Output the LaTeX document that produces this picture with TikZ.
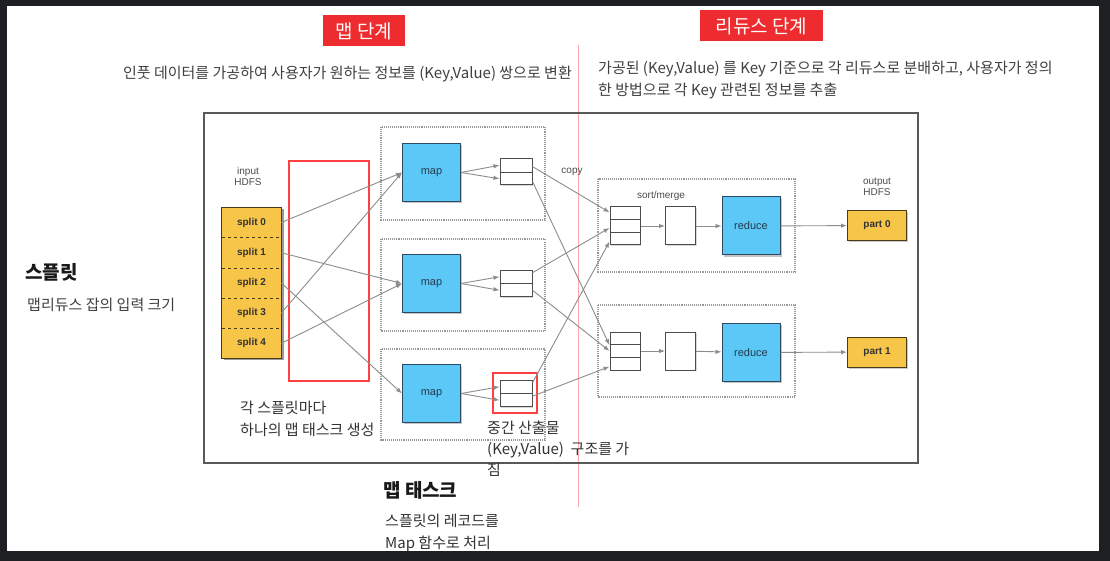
\documentclass[tikz,border=0pt]{standalone}
\usepackage{fontspec}
\setmainfont{Noto Sans CJK KR}
\newfontfamily\latinfont{Liberation Sans}
\usepackage{tikz}
\usetikzlibrary{calc,arrows.meta,shadows}
\definecolor{mapblue}{HTML}{5CC8F7}
\definecolor{mapedge}{HTML}{2C4A63}
\definecolor{hdfsorange}{HTML}{F7C548}
\definecolor{hdfsedge}{HTML}{4A3A1A}
\definecolor{stagered}{HTML}{EE2B2E}
\definecolor{framebg}{HTML}{1E1F22}

\begin{document}
\begin{tikzpicture}[x=1pt,y=-1pt,
    lbl/.style={font=\latinfont\fontsize{10}{11}\selectfont, text=black!70, align=center, inner sep=0pt},
    desc/.style={font=\fontsize{15}{21.5}\selectfont, text=black!75, align=left, inner sep=0pt},
    head/.style={font=\bfseries\fontsize{19}{22}\selectfont, text=black!90, inner sep=0pt},
    stage/.style={fill=stagered, text=white, font=\fontsize{19}{22}\selectfont, minimum height=31, inner sep=0pt},
    hdfs/.style={fill=hdfsorange, font=\latinfont\bfseries\fontsize{10}{11}\selectfont, text=black!80, minimum width=59, minimum height=30.2, inner sep=0pt},
    task/.style={draw=mapedge, fill=mapblue, line width=1pt, minimum width=58, minimum height=58, inner sep=0pt,
      font=\latinfont\fontsize{11}{12}\selectfont, text=mapedge!80!black,
      drop shadow={shadow xshift=1.5pt, shadow yshift=-1.5pt, fill=black!45}},
    part/.style={draw=hdfsedge, fill=hdfsorange, line width=1pt, minimum width=59, minimum height=30, inner sep=0pt,
      font=\latinfont\bfseries\fontsize{10}{11}\selectfont, text=black!80,
      drop shadow={shadow xshift=1.5pt, shadow yshift=-1.5pt, fill=black!40}},
    buf/.style={draw=black!70, fill=white, line width=1pt, minimum width=32, minimum height=26, inner sep=0pt,
      drop shadow={shadow xshift=1pt, shadow yshift=-1pt, fill=black!30}},
    sbuf/.style={draw=black!70, fill=white, line width=1pt, minimum width=30, minimum height=38, inner sep=0pt,
      drop shadow={shadow xshift=1pt, shadow yshift=-1pt, fill=black!30}},
    row/.style={draw=black!70, line width=0.8pt},
    flow/.style={draw=black!45, line width=0.9pt, -{Latex[length=6pt,width=4.5pt]}},
    grp/.style={draw=black!40, line width=1.1pt, densely dotted},
    hl/.style={draw=red!75, line width=1.1pt}]
  \useasboundingbox (0,0) rectangle (1110,561);
  \fill[framebg] (0,0) rectangle (1110,561);
  \fill[white] (7,6) rectangle (1099,551);

  \node[stage, minimum width=82] (mapstage) at (364,31) {맵 단계};
  \node[stage, minimum width=123] (redstage) at (761.5,26) {리듀스 단계};
  \draw[red!35, line width=0.8pt] (578,45) -- (578,507);

  \node[desc, anchor=east] (mapdesc) at (572,74) {인풋 데이터를 가공하여 사용자가 원하는 정보를 (Key,Value) 쌍으로 변환};
  \node[desc, anchor=west] (reddesc) at (598,80) {가공된 (Key,Value) 를 Key 기준으로 각 리듀스로 분배하고, 사용자가 정의\\한 방법으로 각 Key 관련된 정보를 추출};

  \node[head, anchor=west] (splithead) at (25,272) {스플릿};
  \node[desc, anchor=west] (splitdesc) at (27,305) {맵리듀스 잡의 입력 크기};

  \draw[black!65, line width=1.3pt] (204,113) rectangle (918,463);

  \draw[grp] (381,127) rectangle (545,220);
  \draw[grp] (381,239) rectangle (545,331);
  \draw[grp] (381,349) rectangle (545,440);
  \draw[grp] (598,179) rectangle (795,272);
  \draw[grp] (598,305) rectangle (795,397);

  \node[lbl] (inlbl) at (248,176) {input\\HDFS};
  \fill[black!40] (224,209) rectangle (284,360);
  \node[hdfs] (split0) at (251.5,222.5) {split 0};
  \node[hdfs] (split1) at (251.5,252.7) {split 1};
  \node[hdfs] (split2) at (251.5,282.9) {split 2};
  \node[hdfs] (split3) at (251.5,313.1) {split 3};
  \node[hdfs] (split4) at (251.5,343.3) {split 4};
  \foreach \i in {0,...,3}
    \draw[hdfsedge, dashed, line width=0.8pt] (split\i.south west) -- (split\i.south east);
  \draw[hdfsedge, line width=1.2pt] (split0.north west) rectangle (split4.south east);

  \draw[hl] (289,161) rectangle (369,381);

  \node[task] (map1) at (431.5,172.5) {map};
  \node[task] (map2) at (431.5,283.5) {map};
  \node[task] (map3) at (431.5,393.5) {map};

  \node[buf] (buf1) at (516,172) {};
  \node[buf] (buf2) at (516,283.5) {};
  \node[buf] (buf3) at (516,393.5) {};
  \foreach \b in {buf1,buf2,buf3}
    \draw[row] (\b.west) -- (\b.east);
  \draw[hl] (493,373) rectangle (537,413);

  \node[lbl] (copylbl) at (572,172) {copy};
  \node[lbl] (sortlbl) at (661,196) {sort/merge};

  \node[sbuf] (srt1) at (625,226) {};
  \node[sbuf] (srt2) at (625,351) {};
  \foreach \s in {srt1,srt2} {
    \draw[row] ($(\s.north west)!1/3!(\s.south west)$) -- ($(\s.north east)!1/3!(\s.south east)$);
    \draw[row] ($(\s.north west)!2/3!(\s.south west)$) -- ($(\s.north east)!2/3!(\s.south east)$);
  }
  \node[sbuf] (mrg1) at (680.5,226) {};
  \node[sbuf] (mrg2) at (680.5,351) {};

  \node[task] (red1) at (751,226) {reduce};
  \node[task] (red2) at (751,352.5) {reduce};

  \node[lbl] (outlbl) at (877,187) {output\\HDFS};
  \node[part] (part0) at (877,225.5) {part 0};
  \node[part] (part1) at (877,352) {part 1};

  \draw[flow] (split0.east) -- (map1.west);
  \draw[flow] (split3.east) -- (map1.west);
  \draw[flow] (split1.east) -- (map2.west);
  \draw[flow] (split4.east) -- (map2.west);
  \draw[flow] (split2.east) -- (map3.west);

  \foreach \m/\b in {map1/buf1,map2/buf2,map3/buf3} {
    \draw[flow] (\m.east) -- ($(\b.north west)!0.25!(\b.south west)$);
    \draw[flow] (\m.east) -- ($(\b.north west)!0.75!(\b.south west)$);
  }

  \draw[flow] ($(buf1.north east)!0.3!(buf1.south east)$) -- ($(srt1.north west)!0.15!(srt1.south west)$);
  \draw[flow] ($(buf1.north east)!0.85!(buf1.south east)$) -- ($(srt2.north west)!0.35!(srt2.south west)$);
  \draw[flow] ($(buf2.north east)!0.1!(buf2.south east)$) -- ($(srt1.north west)!0.55!(srt1.south west)$);
  \draw[flow] ($(buf2.north east)!0.75!(buf2.south east)$) -- ($(srt2.north west)!0.5!(srt2.south west)$);
  \draw[flow] ($(buf3.north east)!0.1!(buf3.south east)$) -- ($(srt1.north west)!0.9!(srt1.south west)$);
  \draw[flow] ($(buf3.north east)!0.6!(buf3.south east)$) -- ($(srt2.north west)!0.9!(srt2.south west)$);

  \draw[flow] (srt1) -- (mrg1);
  \draw[flow] (mrg1) -- (red1);
  \draw[flow] (red1) -- (part0);
  \draw[flow] (srt2) -- (mrg2);
  \draw[flow] (mrg2) -- (red2);
  \draw[flow] (red2) -- (part1);

  \node[desc, anchor=west, text=black!80] (tasknote) at (240,419) {각 스플릿마다\\하나의 맵 태스크 생성};
  \node[desc, anchor=west, text=black!80, font=\fontsize{15}{21}\selectfont] (bufnote) at (487,449) {중간 산출물\\(Key,Value)\ \ 구조를 가\\짐};
  \node[head, anchor=west] (taskhead) at (383,490) {맵 태스크};
  \node[desc, anchor=west, text=black!80] (taskdesc) at (385,533) {스플릿의 레코드를\\Map 함수로 처리};
\end{tikzpicture}
\end{document}
